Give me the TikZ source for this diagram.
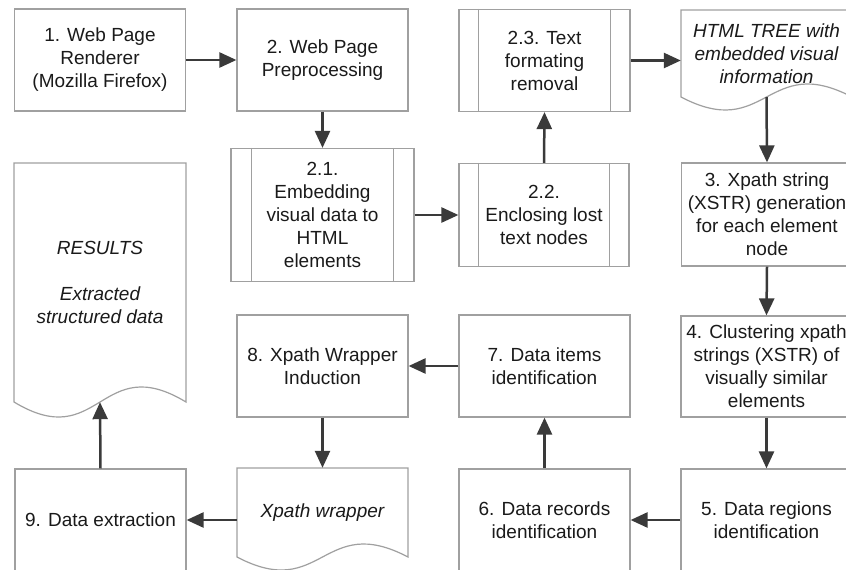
\documentclass[tikz,border=0pt]{standalone}
\usepackage{fontspec}
\setmainfont{Liberation Sans}
\usetikzlibrary{arrows.meta,calc}
\definecolor{boxgray}{HTML}{A0A0A0}
\definecolor{arrc}{HTML}{3A3A3A}
\definecolor{textc}{HTML}{1A1A1A}
\newcommand\diagfont{\fontsize{19pt}{23pt}\selectfont}
\tikzset{
  box/.style={draw=boxgray, line width=1.2pt, minimum width=171pt, minimum height=102pt,
    inner sep=0pt, align=center, text=textc, font=\diagfont},
  docnode/.style={draw=none, minimum width=171pt, inner sep=0pt, align=center,
    text=textc, font=\diagfont\itshape},
  docline/.style={draw=boxgray, line width=1.2pt},
  inner/.style={draw=boxgray, line width=1.2pt},
  arr/.style={draw=arrc, line width=2.5pt, -{Triangle[length=17pt,width=15pt]}},
}
\begin{document}
\begin{tikzpicture}[x=1pt,y=-1pt]
\useasboundingbox (0,0) rectangle (846,570);
\fill[white] (0,0) rectangle (846,570);
\clip (0,0) rectangle (846,570);

% row 1
\node[box] (b1) at (100,60) {1. Web Page\\Renderer\\(Mozilla Firefox)};
\node[box] (b2) at (322.5,60) {2. Web Page\\Preprocessing};
\node[box] (b23) at (544.5,60.5) {2.3. Text\\formating\\removal};
\draw[inner] ([xshift=20pt]b23.north west) -- ([xshift=20pt]b23.south west);
\draw[inner] ([xshift=-20pt]b23.north east) -- ([xshift=-20pt]b23.south east);
% HTML tree document
\draw[docline] (681,97) -- (681,10) -- (852,10) -- (852,97)
  .. controls (766.5,52) and (766.5,142) .. (681,97) -- cycle;
\node[docnode, minimum height=87pt] (html) at (766.5,53.5)
  {\raisebox{4pt}{\parbox{171pt}{\centering HTML TREE with\\embedded visual\\information}}};

% row 2
\node[box, minimum width=183pt, minimum height=133pt] (b21) at (322.5,215)
  {2.1.\\Embedding\\visual data to\\HTML\\elements};
\draw[inner] ([xshift=21pt]b21.north west) -- ([xshift=21pt]b21.south west);
\draw[inner] ([xshift=-21pt]b21.north east) -- ([xshift=-21pt]b21.south east);
\node[box, minimum width=170pt, minimum height=103pt] (b22) at (544,215)
  {2.2.\\Enclosing lost\\text nodes};
\draw[inner] ([xshift=20pt]b22.north west) -- ([xshift=20pt]b22.south west);
\draw[inner] ([xshift=-20pt]b22.north east) -- ([xshift=-20pt]b22.south east);
\node[box, minimum height=103pt] (b3) at (767,214.5)
  {3. Xpath string\\(XSTR) generation\\for each element\\node};
% RESULTS document
\draw[docline] (14,402) -- (14,163) -- (186,163) -- (186,402)
  .. controls (100,350) and (100,454) .. (14,402) -- cycle;
\node[docnode, minimum width=172pt, minimum height=239pt] (res) at (100,282.5)
  {\raisebox{6pt}{\parbox{172pt}{\centering RESULTS\\[22.5pt]Extracted\\structured data}}};

% row 3
\node[box] (b8) at (322.5,366) {8. Xpath Wrapper\\Induction};
\node[box] (b7) at (544.5,366) {7. Data items\\identification};
\node[box, minimum height=101pt] (b4) at (766.5,366.5)
  {4. Clustering xpath\\strings (XSTR) of\\visually similar\\elements};

% row 4
\node[box, minimum width=171pt] (b9) at (100.5,520) {9. Data extraction};
\draw[docline] (237,557) -- (237,468) -- (408,468) -- (408,557)
  .. controls (322.5,512) and (322.5,602) .. (237,557) -- cycle;
\node[docnode, minimum height=89pt] (xw) at (322.5,512.5)
  {\raisebox{5pt}{\parbox{171pt}{\centering Xpath wrapper}}};
\node[box] (b6) at (544.5,520) {6. Data records\\identification};
\node[box] (b5) at (766.5,520) {5. Data regions\\identification};

% connectors
\draw[arr] (b1.east) -- (b2.west);
\draw[arr] (b2.south) -- (b21.north);
\draw[arr] (b21.east) -- (b22.west);
\draw[arr] (b22.north) -- (b23.south);
\draw[arr] (b23.east) -- (b23.east -| html.west);
\draw[arr] (html.south) -- (b3.north);
\draw[arr] (b3.south) -- (b4.north);
\draw[arr] (b4.south) -- (b5.north);
\draw[arr] (b5.west) -- (b6.east);
\draw[arr] (b6.north) -- (b7.south);
\draw[arr] (b7.west) -- (b8.east);
\draw[arr] (b8.south) -- (xw.north);
\draw[arr] (b9.east -| xw.west) -- (b9.east);
\draw[arr] (b9.north) -- (res.south);
\end{tikzpicture}
\end{document}
